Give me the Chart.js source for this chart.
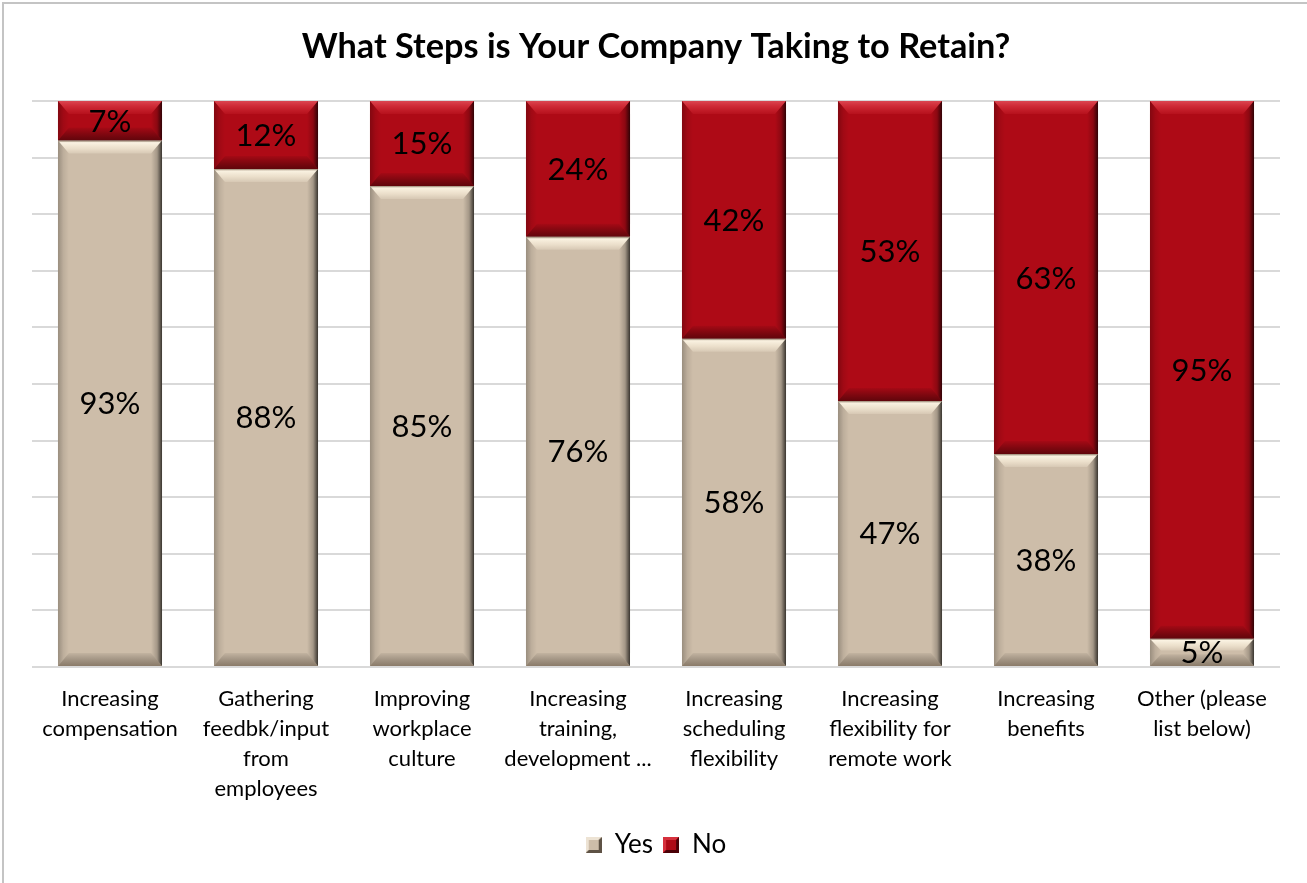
<!DOCTYPE html>
<html>
<head>
<meta charset="utf-8">
<script src="https://cdn.jsdelivr.net/npm/chart.js@4.4.1/dist/chart.umd.min.js"></script>
<style>
  html, body { margin: 0; padding: 0; background: #fff; }
  #wrap { position: relative; width: 1307px; height: 883px; }
  canvas { display: block; }
</style>
</head>
<body>
<div id="wrap"><canvas id="c" width="1307" height="883"></canvas></div>
<script>
// Survey: steps companies are taking to retain staff (share of respondents)
const categories = [
  ['Increasing', 'compensation'],
  ['Gathering', 'feedbk/input', 'from', 'employees'],
  ['Improving', 'workplace', 'culture'],
  ['Increasing', 'training,', 'development ...'],
  ['Increasing', 'scheduling', 'flexibility'],
  ['Increasing', 'flexibility for', 'remote work'],
  ['Increasing', 'benefits'],
  ['Other (please', 'list below)']
];
const yesValues = [93, 88, 85, 76, 58, 47, 38, 5];
const noValues  = [7, 12, 15, 24, 42, 53, 63, 95];
const seriesNames = ['Yes', 'No'];
const chartTitle = 'What Steps is Your Company Taking to Retain?';

// 100% stacked: each column is scaled to its own total
const totals = yesValues.map((v, i) => v + noValues[i]);
const yesShare = yesValues.map((v, i) => v / totals[i] * 100);
const noShare = noValues.map((v, i) => v / totals[i] * 100);

const YES_COLOR = '#CDBDA9';
const NO_COLOR = '#AE0A16';
const FONT = 'Lato, "Open Sans", sans-serif';
const PLOT_TOP = 101, PLOT_BOTTOM = 667, PLOT_LEFT = 32, PLOT_RIGHT = 1280;
const BOTTOM_PAD = 15;
const TITLE_SIZE = 34.3, TITLE_CENTER = 47;

// Small bevelled swatch used as the legend marker
function swatch(base, light, dark) {
  const s = 16, c = document.createElement('canvas');
  c.width = s; c.height = s;
  const g = c.getContext('2d');
  g.fillStyle = base; g.fillRect(0, 0, s, s);
  g.fillStyle = light;
  g.beginPath(); g.moveTo(0, 0); g.lineTo(s, 0); g.lineTo(s / 2, s / 2); g.lineTo(0, s); g.closePath(); g.fill();
  g.fillStyle = dark;
  g.beginPath(); g.moveTo(s, 0); g.lineTo(s, s); g.lineTo(0, s); g.lineTo(s / 2, s / 2); g.closePath(); g.fill();
  g.fillStyle = base; g.fillRect(3, 3, s - 6, s - 6);
  return c;
}
const legendIcons = [
  swatch(YES_COLOR, '#EDE3D4', '#5E5245'),
  swatch(NO_COLOR, '#D6303C', '#4A0006')
];

// Frame along the top and left edges
const framePlugin = {
  id: 'frame',
  beforeDraw(chart) {
    const ctx = chart.ctx;
    ctx.save();
    ctx.fillStyle = '#fff';
    ctx.fillRect(0, 0, chart.width, chart.height);
    ctx.fillStyle = '#C4C4C4';
    ctx.fillRect(2, 2, chart.width - 2, 2);
    ctx.fillRect(2, 2, 2, chart.height - 2);
    ctx.restore();
  }
};

// Bevelled edges on every bar segment
const bevelPlugin = {
  id: 'bevel',
  afterDatasetsDraw(chart) {
    const ctx = chart.ctx;
    chart.data.datasets.forEach((ds, di) => {
      const meta = chart.getDatasetMeta(di);
      if (meta.hidden) return;
      meta.data.forEach((bar) => {
        const p = bar.getProps(['x', 'y', 'base', 'width'], true);
        const l = p.x - p.width / 2, r = p.x + p.width / 2;
        const t = Math.min(p.y, p.base), b = Math.max(p.y, p.base);
        const h = b - t;
        const bv = Math.min(13, h / 2.3), bx = 11;
        ctx.save();
        // top face
        let g = ctx.createLinearGradient(0, t, 0, t + bv);
        if (di === 0) {
          g.addColorStop(0, 'rgba(120,100,80,0.55)');
          g.addColorStop(0.15, 'rgba(255,248,232,0.9)');
          g.addColorStop(0.6, 'rgba(255,245,225,0.6)');
          g.addColorStop(1, 'rgba(255,245,225,0.2)');
        } else {
          g.addColorStop(0, 'rgba(255,120,130,0.55)');
          g.addColorStop(0.4, 'rgba(255,90,100,0.4)');
          g.addColorStop(1, 'rgba(255,80,90,0.1)');
        }
        ctx.fillStyle = g;
        ctx.beginPath();
        ctx.moveTo(l, t); ctx.lineTo(r, t); ctx.lineTo(r - bx, t + bv); ctx.lineTo(l + bx, t + bv);
        ctx.closePath(); ctx.fill();
        // bottom face
        g = ctx.createLinearGradient(0, b - bv, 0, b);
        g.addColorStop(0, 'rgba(0,0,0,0.05)');
        g.addColorStop(1, di === 0 ? 'rgba(40,25,10,0.4)' : 'rgba(20,0,0,0.5)');
        ctx.fillStyle = g;
        ctx.beginPath();
        ctx.moveTo(l, b); ctx.lineTo(r, b); ctx.lineTo(r - bx, b - bv); ctx.lineTo(l + bx, b - bv);
        ctx.closePath(); ctx.fill();
        // left face
        g = ctx.createLinearGradient(l, 0, l + bx, 0);
        g.addColorStop(0, 'rgba(0,0,0,0.25)');
        g.addColorStop(0.5, 'rgba(0,0,0,0.08)');
        g.addColorStop(1, 'rgba(0,0,0,0.0)');
        ctx.fillStyle = g;
        ctx.beginPath();
        ctx.moveTo(l, t); ctx.lineTo(l + bx, t + bv); ctx.lineTo(l + bx, b - bv); ctx.lineTo(l, b);
        ctx.closePath(); ctx.fill();
        // right face
        g = ctx.createLinearGradient(r - bx, 0, r, 0);
        g.addColorStop(0, 'rgba(0,0,0,0.0)');
        g.addColorStop(0.55, 'rgba(0,0,0,0.2)');
        g.addColorStop(1, 'rgba(0,0,0,0.72)');
        ctx.fillStyle = g;
        ctx.beginPath();
        ctx.moveTo(r, t); ctx.lineTo(r - bx, t + bv); ctx.lineTo(r - bx, b - bv); ctx.lineTo(r, b);
        ctx.closePath(); ctx.fill();
        ctx.restore();
      });
    });
  }
};

// Percentage labels centred on each segment
const valueLabelPlugin = {
  id: 'valueLabels',
  afterDatasetsDraw(chart) {
    const ctx = chart.ctx;
    const sources = [yesValues, noValues];
    ctx.save();
    ctx.font = '31px ' + FONT;
    ctx.fillStyle = '#000';
    ctx.textAlign = 'center';
    ctx.textBaseline = 'middle';
    chart.data.datasets.forEach((ds, di) => {
      const meta = chart.getDatasetMeta(di);
      meta.data.forEach((bar, i) => {
        const p = bar.getProps(['x', 'y', 'base'], true);
        ctx.fillText(sources[di][i] + '%', p.x, (p.y + p.base) / 2 + 1);
      });
    });
    ctx.restore();
  }
};

new Chart(document.getElementById('c'), {
  type: 'bar',
  data: {
    labels: categories,
    datasets: [
      { label: seriesNames[0], data: yesShare, backgroundColor: YES_COLOR, borderWidth: 0 },
      { label: seriesNames[1], data: noShare, backgroundColor: NO_COLOR, borderWidth: 0 }
    ]
  },
  options: {
    responsive: false,
    animation: false,
    devicePixelRatio: 1,
    barPercentage: 0.667,
    categoryPercentage: 1,
    layout: { padding: { left: PLOT_LEFT, right: 1307 - PLOT_RIGHT, top: 0, bottom: BOTTOM_PAD } },
    plugins: {
      title: {
        display: true,
        text: chartTitle,
        color: '#000',
        font: { family: FONT, size: TITLE_SIZE, weight: 'bold', lineHeight: 1.2 },
        padding: {
          top: TITLE_CENTER - TITLE_SIZE * 0.6,
          bottom: PLOT_TOP - TITLE_CENTER - TITLE_SIZE * 0.6
        }
      },
      legend: {
        position: 'bottom',
        labels: {
          color: '#000',
          font: { family: FONT, size: 26 },
          usePointStyle: true,
          boxWidth: 16,
          boxHeight: 16,
          padding: 10,
          generateLabels(chart) {
            return chart.data.datasets.map((ds, i) => ({
              text: ds.label,
              pointStyle: legendIcons[i],
              fillStyle: ds.backgroundColor,
              strokeStyle: ds.backgroundColor,
              lineWidth: 0,
              hidden: false,
              datasetIndex: i,
              fontColor: '#000'
            }));
          }
        }
      },
      tooltip: { enabled: false }
    },
    scales: {
      x: {
        stacked: true,
        grid: { display: false },
        border: { display: false },
        ticks: {
          color: '#000',
          font: { family: FONT, size: 22, lineHeight: 1.36 },
          maxRotation: 0,
          autoSkip: false,
          padding: 9
        },
        afterFit(scale) {
          const legendH = scale.chart.legend ? scale.chart.legend.height : 0;
          scale.height = scale.chart.height - PLOT_BOTTOM - legendH - BOTTOM_PAD;
        }
      },
      y: {
        stacked: true,
        min: 0,
        max: 100,
        ticks: { display: false, stepSize: 10 },
        border: { display: false },
        grid: { color: '#D9D9D9', lineWidth: 2, drawTicks: false },
        afterFit(scale) { scale.width = 0; }
      }
    }
  },
  plugins: [framePlugin, bevelPlugin, valueLabelPlugin]
});
</script>
</body>
</html>
